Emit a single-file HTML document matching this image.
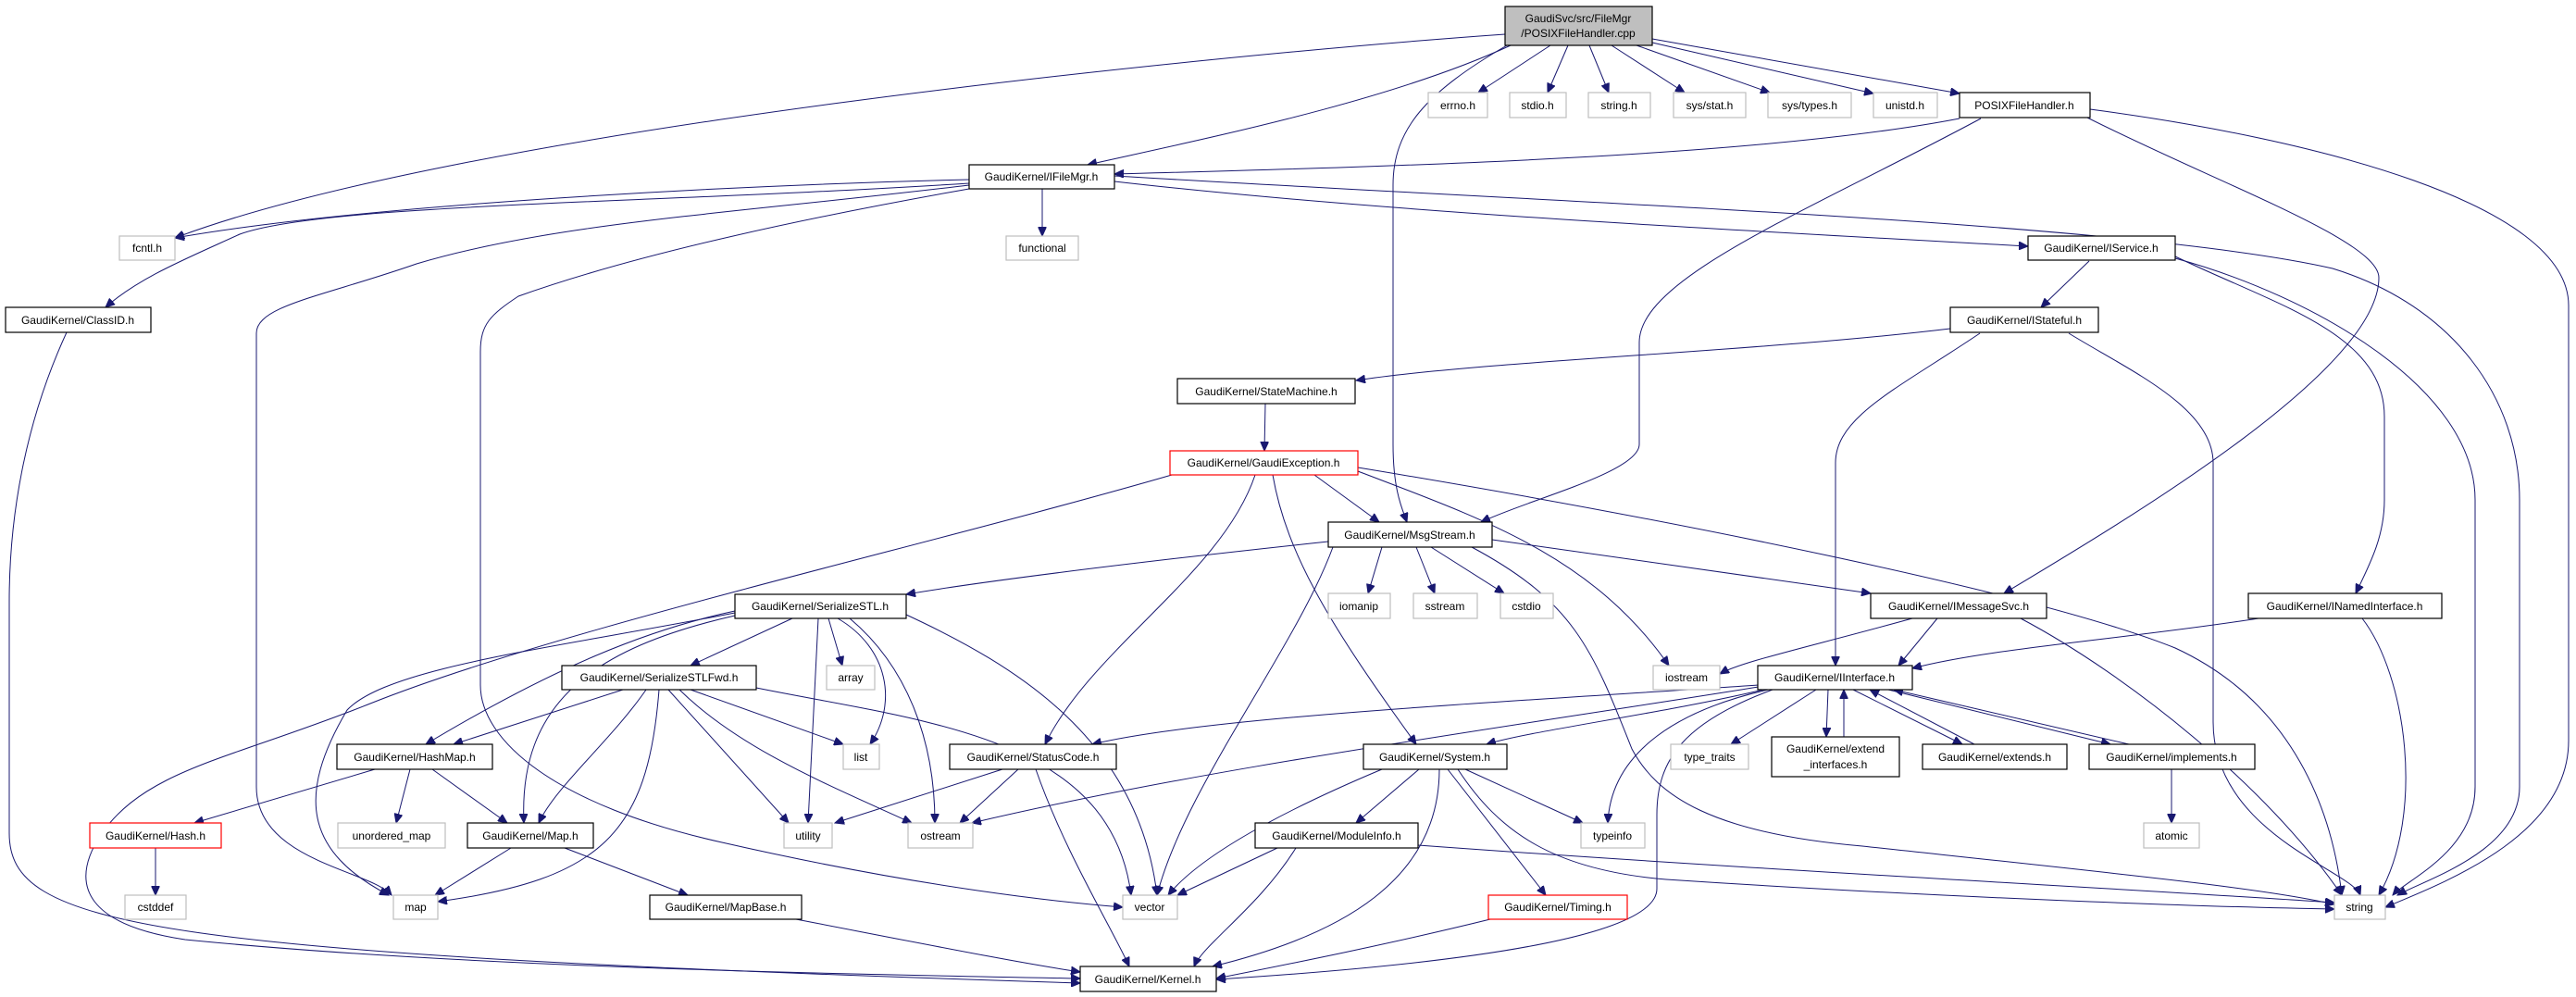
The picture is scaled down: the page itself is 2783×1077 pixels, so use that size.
<!DOCTYPE html>
<html><head><meta charset="utf-8"><style>
html,body{margin:0;padding:0;background:#fff;}
svg{display:block;}
text{font-family:"Liberation Sans",sans-serif;font-size:12px;fill:#000;}
.e{fill:none;stroke:#191970;stroke-width:1;marker-end:url(#a);}
.n{fill:#fff;stroke:#000;stroke-width:1.2;}
.g{fill:#fff;stroke:#bfbfbf;stroke-width:1.2;}
.r{fill:#fff;stroke:#ff0000;stroke-width:1.2;}
</style></head><body>
<svg width="2783" height="1077" viewBox="0 0 2783 1077" xmlns="http://www.w3.org/2000/svg">
<defs><marker id="a" markerWidth="11" markerHeight="9" refX="10" refY="4.5" orient="auto" markerUnits="userSpaceOnUse"><path d="M0,0 L10,4.5 L0,9 z" fill="#191970" stroke="#191970"/></marker></defs>
<g>
<path class="e" d="M1626,37 C1300,60 500,140 189,257"/>
<path class="e" d="M1632,49 C1500,110 1300,150 1175,178"/>
<path class="e" d="M1628,49 C1540,100 1505,140 1505,200 L1505,480 C1505,530 1515,550 1520,564"/>
<path class="e" d="M1675,49 L1597,100"/>
<path class="e" d="M1694,49 L1672,100"/>
<path class="e" d="M1717,49 L1738,100"/>
<path class="e" d="M1741,49 L1820,100"/>
<path class="e" d="M1768,49 L1912,100"/>
<path class="e" d="M1785,46 L2024,101"/>
<path class="e" d="M1785,42 L2117,101"/>
<path class="e" d="M2117,128 C1900,170 1500,180 1204,188"/>
<path class="e" d="M2140,128 C1950,230 1771,300 1771,370 L1771,480 C1771,510 1650,540 1600,564"/>
<path class="e" d="M2255,127 C2400,200 2570,260 2570,300 C2570,400 2300,560 2165,641"/>
<path class="e" d="M2258,118 C2500,150 2775,220 2775,330 L2775,800 C2775,900 2650,950 2577,980"/>
<path class="e" d="M1047,194 C800,200 400,220 189,257"/>
<path class="e" d="M1047,198 C700,220 350,220 259,253 C200,280 150,300 114,332"/>
<path class="e" d="M1126,204 L1126,255"/>
<path class="e" d="M1047,200 C800,230 600,240 450,285 C350,320 277,330 277,360 L277,850 C277,930 400,940 423,967"/>
<path class="e" d="M1047,204 C900,230 700,270 560,320 C530,340 519,350 519,380 L519,740 C519,800 600,870 780,910 C1000,960 1150,975 1213,980"/>
<path class="e" d="M1204,196 C1500,230 1900,250 2191,266"/>
<path class="e" d="M1204,190 C1700,220 2300,240 2520,290 C2650,330 2722,430 2722,540 L2722,850 C2722,920 2620,950 2590,967"/>
<path class="e" d="M72,359 C30,450 10,550 10,650 L10,900 C10,1000 150,1030 1167,1062"/>
<path class="e" d="M2257,282 L2205,332"/>
<path class="e" d="M2350,277 C2460,330 2576,360 2576,450 L2576,540 C2576,580 2560,610 2545,641"/>
<path class="e" d="M2350,279 C2500,320 2674,420 2674,540 L2674,850 C2674,920 2600,950 2585,967"/>
<path class="e" d="M2235,360 C2300,400 2391,440 2391,500 L2391,780 C2391,900 2540,940 2550,967"/>
<path class="e" d="M2139,360 C2050,420 1983,450 1983,500 L1983,719"/>
<path class="e" d="M2107,355 C1900,380 1600,390 1465,411"/>
<path class="e" d="M1367,436 L1366,487"/>
<path class="e" d="M1266,513 C1000,590 600,680 400,760 C250,820 160,830 110,900 C70,960 100,1000 200,1015 C500,1045 900,1052 1167,1057"/>
<path class="e" d="M1420,513 L1490,564"/>
<path class="e" d="M1356,513 C1320,620 1180,700 1129,804"/>
<path class="e" d="M1375,513 C1390,600 1440,680 1530,804"/>
<path class="e" d="M1467,509 C1600,560 1720,600 1803,719"/>
<path class="e" d="M1467,505 C1800,560 2200,640 2350,700 C2480,760 2520,880 2530,967"/>
<path class="e" d="M1435,585 C1200,610 1050,630 979,642"/>
<path class="e" d="M1493,591 L1478,641"/>
<path class="e" d="M1530,591 L1550,641"/>
<path class="e" d="M1546,591 L1625,641"/>
<path class="e" d="M1612,583 C1800,610 1950,630 2021,641"/>
<path class="e" d="M1590,591 C1700,650 1720,700 1763,809 C1790,860 1850,900 2012,914 C2300,945 2450,960 2522,977"/>
<path class="e" d="M1440,591 C1400,700 1280,850 1250,967"/>
<path class="e" d="M2066,668 C1950,700 1880,715 1858,728"/>
<path class="e" d="M2093,668 L2051,719"/>
<path class="e" d="M2183,668 C2300,730 2450,850 2530,967"/>
<path class="e" d="M2440,668 C2300,690 2150,700 2066,722"/>
<path class="e" d="M2552,668 C2600,730 2620,880 2570,967"/>
<path class="e" d="M1900,740 C1600,760 1300,775 1180,804"/>
<path class="e" d="M1900,742 C1600,790 1300,830 1050,889"/>
<path class="e" d="M1905,745 C1800,770 1650,790 1606,804"/>
<path class="e" d="M1910,745 C1800,770 1740,820 1737,889"/>
<path class="e" d="M1915,745 C1820,780 1790,820 1790,880 L1790,960 C1790,1010 1600,1040 1314,1058"/>
<path class="e" d="M1962,745 L1870,804"/>
<path class="e" d="M1975,745 L1973,796"/>
<path class="e" d="M1992,796 L1992,745"/>
<path class="e" d="M2002,745 L2120,804"/>
<path class="e" d="M2133,804 L2020,745"/>
<path class="e" d="M2040,745 L2280,804"/>
<path class="e" d="M2300,804 L2046,745"/>
<path class="e" d="M2346,831 L2346,889"/>
<path class="e" d="M1533,831 L1465,889"/>
<path class="e" d="M1583,831 L1710,889"/>
<path class="e" d="M1564,831 L1670,967"/>
<path class="e" d="M1555,831 C1555,950 1450,1010 1310,1044"/>
<path class="e" d="M1493,831 C1400,870 1300,920 1262,967"/>
<path class="e" d="M1575,831 C1620,900 1680,940 1800,950 C2100,970 2400,980 2522,982"/>
<path class="e" d="M1380,916 L1272,967"/>
<path class="e" d="M1400,916 C1360,980 1300,1020 1290,1044"/>
<path class="e" d="M1532,913 C1900,940 2300,960 2522,975"/>
<path class="e" d="M1610,993 C1500,1020 1400,1040 1314,1057"/>
<path class="e" d="M1083,831 L902,889"/>
<path class="e" d="M1100,831 L1037,889"/>
<path class="e" d="M1119,831 C1150,920 1200,1000 1220,1044"/>
<path class="e" d="M856,668 L746,719"/>
<path class="e" d="M895,668 L910,719"/>
<path class="e" d="M905,668 C960,700 970,760 940,804"/>
<path class="e" d="M918,668 C980,720 1010,800 1010,889"/>
<path class="e" d="M884,668 L873,889"/>
<path class="e" d="M979,664 C1100,720 1230,800 1250,967"/>
<path class="e" d="M794,660 C700,680 600,720 460,804"/>
<path class="e" d="M794,665 C640,700 560,760 566,889"/>
<path class="e" d="M794,662 C600,700 420,720 375,767 C320,860 330,920 420,967"/>
<path class="e" d="M673,745 L490,804"/>
<path class="e" d="M698,745 C660,800 600,850 582,889"/>
<path class="e" d="M712,745 C700,900 650,950 473,974"/>
<path class="e" d="M722,745 L852,889"/>
<path class="e" d="M734,745 C800,810 900,850 985,889"/>
<path class="e" d="M746,745 L911,804"/>
<path class="e" d="M817,743 C1000,780 1200,795 1222,967"/>
<path class="e" d="M405,831 L210,889"/>
<path class="e" d="M443,831 L428,889"/>
<path class="e" d="M467,831 L548,889"/>
<path class="e" d="M168,916 L168,967"/>
<path class="e" d="M552,916 L470,967"/>
<path class="e" d="M610,916 L743,967"/>
<path class="e" d="M860,993 C1000,1020 1100,1040 1167,1050"/>
</g>
<g>
<rect x="1626" y="7" width="159" height="42" fill="#bfbfbf" stroke="#000" stroke-width="1.2"/>
<text x="1705" y="24" text-anchor="middle">GaudiSvc/src/FileMgr</text>
<text x="1705" y="40" text-anchor="middle">/POSIXFileHandler.cpp</text>
<rect class="g" x="1543" y="100" width="64" height="27"/><text x="1575" y="118" text-anchor="middle">errno.h</text>
<rect class="g" x="1631" y="100" width="61" height="27"/><text x="1661" y="118" text-anchor="middle">stdio.h</text>
<rect class="g" x="1716" y="100" width="67" height="27"/><text x="1749" y="118" text-anchor="middle">string.h</text>
<rect class="g" x="1808" y="100" width="78" height="27"/><text x="1847" y="118" text-anchor="middle">sys/stat.h</text>
<rect class="g" x="1910" y="100" width="90" height="27"/><text x="1955" y="118" text-anchor="middle">sys/types.h</text>
<rect class="g" x="2024" y="100" width="69" height="27"/><text x="2058" y="118" text-anchor="middle">unistd.h</text>
<rect class="n" x="2117" y="100" width="141" height="27"/><text x="2187" y="118" text-anchor="middle">POSIXFileHandler.h</text>
<rect class="n" x="1047" y="178" width="157" height="26"/><text x="1125" y="195" text-anchor="middle">GaudiKernel/IFileMgr.h</text>
<rect class="g" x="129" y="255" width="60" height="26"/><text x="159" y="272" text-anchor="middle">fcntl.h</text>
<rect class="g" x="1087" y="255" width="78" height="26"/><text x="1126" y="272" text-anchor="middle">functional</text>
<rect class="n" x="2191" y="255" width="159" height="26"/><text x="2270" y="272" text-anchor="middle">GaudiKernel/IService.h</text>
<rect class="n" x="6" y="332" width="157" height="27"/><text x="84" y="350" text-anchor="middle">GaudiKernel/ClassID.h</text>
<rect class="n" x="2107" y="332" width="160" height="27"/><text x="2187" y="350" text-anchor="middle">GaudiKernel/IStateful.h</text>
<rect class="n" x="1272" y="409" width="192" height="27"/><text x="1368" y="427" text-anchor="middle">GaudiKernel/StateMachine.h</text>
<rect class="r" x="1264" y="487" width="203" height="26"/><text x="1365" y="504" text-anchor="middle">GaudiKernel/GaudiException.h</text>
<rect class="n" x="1435" y="564" width="177" height="27"/><text x="1523" y="582" text-anchor="middle">GaudiKernel/MsgStream.h</text>
<rect class="n" x="794" y="642" width="185" height="26"/><text x="886" y="659" text-anchor="middle">GaudiKernel/SerializeSTL.h</text>
<rect class="g" x="1435" y="641" width="67" height="27"/><text x="1468" y="659" text-anchor="middle">iomanip</text>
<rect class="g" x="1527" y="641" width="69" height="27"/><text x="1561" y="659" text-anchor="middle">sstream</text>
<rect class="g" x="1621" y="641" width="57" height="27"/><text x="1649" y="659" text-anchor="middle">cstdio</text>
<rect class="n" x="2021" y="641" width="190" height="27"/><text x="2116" y="659" text-anchor="middle">GaudiKernel/IMessageSvc.h</text>
<rect class="n" x="2429" y="641" width="209" height="27"/><text x="2533" y="659" text-anchor="middle">GaudiKernel/INamedInterface.h</text>
<rect class="n" x="607" y="719" width="210" height="26"/><text x="712" y="736" text-anchor="middle">GaudiKernel/SerializeSTLFwd.h</text>
<rect class="g" x="893" y="719" width="52" height="26"/><text x="919" y="736" text-anchor="middle">array</text>
<rect class="g" x="1786" y="719" width="72" height="26"/><text x="1822" y="736" text-anchor="middle">iostream</text>
<rect class="n" x="1899" y="719" width="167" height="26"/><text x="1982" y="736" text-anchor="middle">GaudiKernel/IInterface.h</text>
<rect class="n" x="364" y="804" width="168" height="27"/><text x="448" y="822" text-anchor="middle">GaudiKernel/HashMap.h</text>
<rect class="g" x="911" y="804" width="39" height="27"/><text x="930" y="822" text-anchor="middle">list</text>
<rect class="n" x="1026" y="804" width="180" height="27"/><text x="1116" y="822" text-anchor="middle">GaudiKernel/StatusCode.h</text>
<rect class="n" x="1473" y="804" width="155" height="27"/><text x="1550" y="822" text-anchor="middle">GaudiKernel/System.h</text>
<rect class="g" x="1805" y="804" width="84" height="27"/><text x="1847" y="822" text-anchor="middle">type_traits</text>
<rect class="n" x="1914" y="796" width="138" height="43"/><text x="1983" y="813" text-anchor="middle">GaudiKernel/extend</text><text x="1983" y="830" text-anchor="middle">_interfaces.h</text>
<rect class="n" x="2077" y="804" width="156" height="27"/><text x="2155" y="822" text-anchor="middle">GaudiKernel/extends.h</text>
<rect class="n" x="2257" y="804" width="179" height="27"/><text x="2346" y="822" text-anchor="middle">GaudiKernel/implements.h</text>
<rect class="r" x="97" y="889" width="142" height="27"/><text x="168" y="907" text-anchor="middle">GaudiKernel/Hash.h</text>
<rect class="g" x="365" y="889" width="116" height="27"/><text x="423" y="907" text-anchor="middle">unordered_map</text>
<rect class="n" x="505" y="889" width="136" height="27"/><text x="573" y="907" text-anchor="middle">GaudiKernel/Map.h</text>
<rect class="g" x="847" y="889" width="52" height="27"/><text x="873" y="907" text-anchor="middle">utility</text>
<rect class="g" x="981" y="889" width="70" height="27"/><text x="1016" y="907" text-anchor="middle">ostream</text>
<rect class="n" x="1356" y="889" width="176" height="27"/><text x="1444" y="907" text-anchor="middle">GaudiKernel/ModuleInfo.h</text>
<rect class="g" x="1708" y="889" width="69" height="27"/><text x="1742" y="907" text-anchor="middle">typeinfo</text>
<rect class="g" x="2316" y="889" width="60" height="27"/><text x="2346" y="907" text-anchor="middle">atomic</text>
<rect class="g" x="135" y="967" width="66" height="26"/><text x="168" y="984" text-anchor="middle">cstddef</text>
<rect class="g" x="425" y="967" width="48" height="26"/><text x="449" y="984" text-anchor="middle">map</text>
<rect class="n" x="702" y="967" width="164" height="26"/><text x="784" y="984" text-anchor="middle">GaudiKernel/MapBase.h</text>
<rect class="g" x="1213" y="967" width="59" height="26"/><text x="1242" y="984" text-anchor="middle">vector</text>
<rect class="r" x="1608" y="967" width="150" height="26"/><text x="1683" y="984" text-anchor="middle">GaudiKernel/Timing.h</text>
<rect class="g" x="2522" y="967" width="55" height="26"/><text x="2549" y="984" text-anchor="middle">string</text>
<rect class="n" x="1167" y="1044" width="147" height="27"/><text x="1240" y="1062" text-anchor="middle">GaudiKernel/Kernel.h</text>
</g>
</svg>
</body></html>
